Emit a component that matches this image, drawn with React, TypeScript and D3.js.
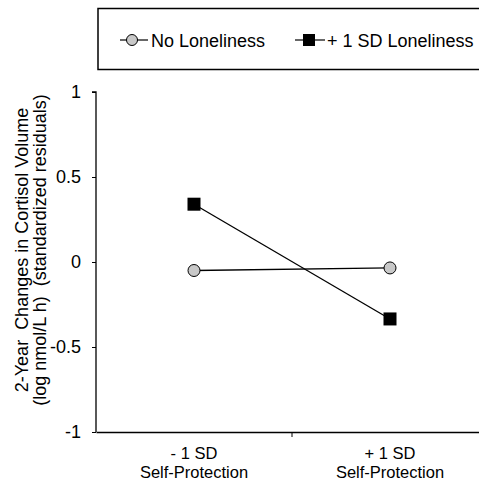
import React, { useEffect, useRef } from "react";
import * as d3 from "d3";

const categories = ["- 1 SD|Self-Protection", "+ 1 SD|Self-Protection"];
const noLoneliness = [-0.05, -0.035];
const plusLoneliness = [0.34, -0.335];
const yTicks = [-1, -0.5, 0, 0.5, 1];
const seriesNames = ["No Loneliness", "+ 1 SD Loneliness"];

const App = () => {
  const svgRef = useRef<SVGSVGElement>(null);

  useEffect(() => {
    const svg = d3.select(svgRef.current);
    svg.selectAll("*").remove();
    const font = "Liberation Sans, Arial, sans-serif";

    const x = d3.scaleBand().domain(categories).range([96, 488]);
    const y = d3.scaleLinear().domain([-1, 1]).range([432, 92]);

    // legend box
    svg.append("rect").attr("x", 98).attr("y", 8.5).attr("width", 400).attr("height", 61)
      .attr("fill", "#fff").attr("stroke", "#000").attr("stroke-width", 1.5);
    const lg = svg.append("g");
    lg.append("line").attr("x1", 120).attr("x2", 148).attr("y1", 40).attr("y2", 40).attr("stroke", "#000").attr("stroke-width", 1.2);
    lg.append("circle").attr("cx", 132).attr("cy", 40).attr("r", 5.5).attr("fill", "#c8c8c8").attr("stroke", "#000").attr("stroke-width", 1);
    lg.append("text").attr("x", 151).attr("y", 47).attr("font-family", font).attr("font-size", 18).text(seriesNames[0]);
    lg.append("line").attr("x1", 295).attr("x2", 325).attr("y1", 40).attr("y2", 40).attr("stroke", "#000").attr("stroke-width", 1.2);
    lg.append("rect").attr("x", 303).attr("y", 34).attr("width", 12).attr("height", 12).attr("fill", "#000");
    lg.append("text").attr("x", 327).attr("y", 47).attr("font-family", font).attr("font-size", 18)
      .attr("xml:space", "preserve").style("white-space", "pre").text(seriesNames[1]);

    // y axis
    const ya = svg.append("g").attr("transform", "translate(96,0)")
      .call(d3.axisLeft(y).tickValues(yTicks).tickSize(4).tickPadding(11).tickFormat((d) => String(d)));
    ya.select(".domain").attr("stroke-width", 1.3).attr("d", `M-4,${y(1)}H0V${y(-1)}`);
    ya.selectAll("text").attr("font-family", font).attr("font-size", 18).attr("fill", "#000");

    // x axis
    const xa = svg.append("g").attr("transform", `translate(0,${y(-1)})`)
      .call(d3.axisBottom(x).tickValues([]).tickSizeOuter(0));
    xa.select(".domain").attr("stroke-width", 1.3);
    xa.append("line").attr("x1", 292).attr("x2", 292).attr("y1", 0).attr("y2", 5).attr("stroke", "#000");

    categories.forEach((c) => {
      const [a, b] = c.split("|");
      const cx = (x(c) as number) + x.bandwidth() / 2;
      svg.append("text").attr("x", cx).attr("y", 459).attr("text-anchor", "middle")
        .attr("font-family", font).attr("font-size", 16.5).text(a);
      svg.append("text").attr("x", cx).attr("y", 478).attr("text-anchor", "middle")
        .attr("font-family", font).attr("font-size", 16.5).text(b);
    });

    // y title
    const yt = svg.append("text").attr("transform", "translate(0,250) rotate(-90)")
      .attr("text-anchor", "middle").attr("font-family", font).attr("font-size", 18)
      .attr("xml:space", "preserve").style("white-space", "pre");
    yt.append("tspan").attr("x", 0).attr("y", 28).text("2-Year  Changes in Cortisol Volume");
    yt.append("tspan").attr("x", 0).attr("y", 46).text("(log nmol/L h)  (standardized residuals)");

    const cxs = categories.map((c) => (x(c) as number) + x.bandwidth() / 2);
    const line = d3.line<number>().x((_, i) => cxs[i]).y((d) => y(d));

    svg.append("path").attr("d", line(noLoneliness)).attr("fill", "none").attr("stroke", "#000").attr("stroke-width", 1.3);
    svg.append("path").attr("d", line(plusLoneliness)).attr("fill", "none").attr("stroke", "#000").attr("stroke-width", 1.3);

    svg.selectAll(".pt").data(noLoneliness).enter().append("circle")
      .attr("cx", (_, i) => cxs[i]).attr("cy", (d) => y(d)).attr("r", 6)
      .attr("fill", "#c8c8c8").attr("stroke", "#000").attr("stroke-width", 1);
    svg.selectAll(".sq").data(plusLoneliness).enter().append("rect")
      .attr("x", (_, i) => cxs[i] - 6.5).attr("y", (d) => y(d) - 6.5).attr("width", 13).attr("height", 13)
      .attr("fill", "#000");
  }, []);

  return (
    <svg ref={svgRef} width={479} height={483} style={{ position: "absolute", left: 0, top: 0 }} />
  );
};

export default App;
